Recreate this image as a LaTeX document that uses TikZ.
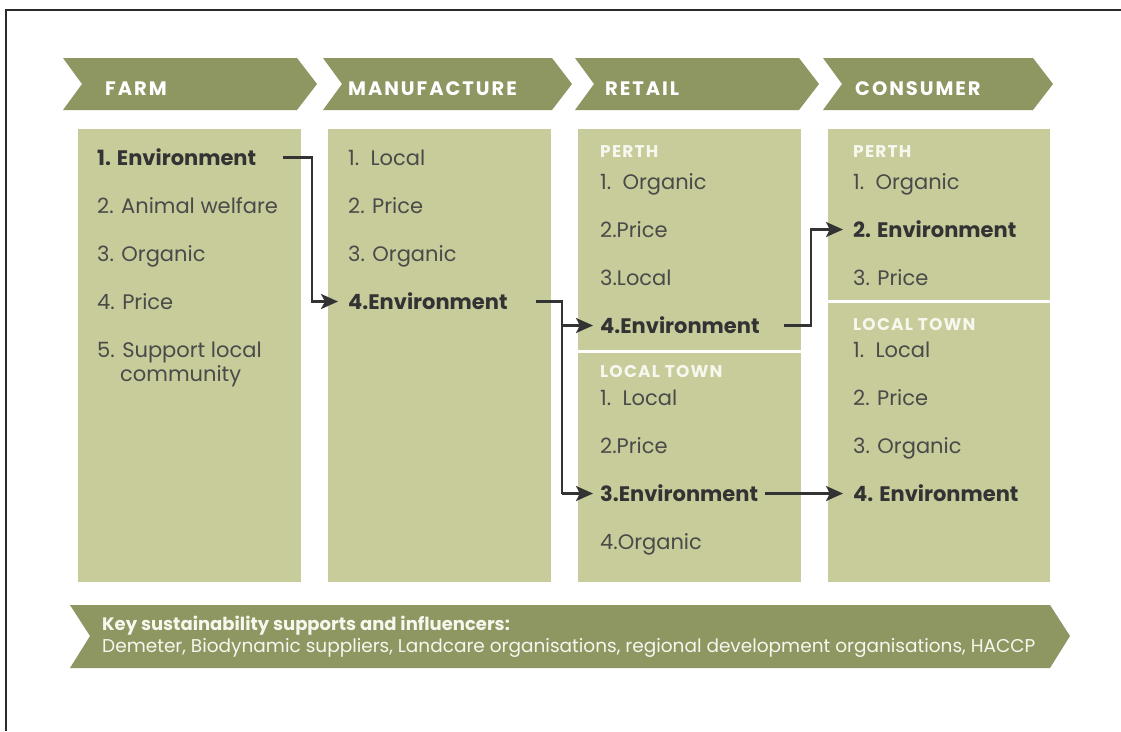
\documentclass[tikz,border=0pt]{standalone}
\usepackage{fontspec}
\setmainfont{Poppins}
\newfontfamily\spacedfont[LetterSpace=10]{Poppins}
\newfontfamily\subfont[LetterSpace=7]{Poppins}
\usetikzlibrary{arrows.meta}
\definecolor{bannerol}{HTML}{8E9662}
\definecolor{boxol}{HTML}{C8CC9B}
\definecolor{txtgray}{HTML}{4A4A48}
\definecolor{txtdark}{HTML}{333333}
\definecolor{subwhite}{HTML}{F7F7EE}
\definecolor{framec}{HTML}{2A2A2A}
\tikzset{
  head/.style={anchor=base west, inner sep=0pt, text=white, font=\spacedfont\fontsize{19.5}{22}\selectfont\bfseries},
  item/.style={anchor=base west, inner sep=0pt, text=txtgray, text height=15pt, text depth=0pt, font=\fontsize{21}{24}\selectfont},
  itemb/.style={item, text=txtdark, font=\fontsize{21}{24}\selectfont\bfseries},
  sub/.style={anchor=base west, inner sep=0pt, text=subwhite, font=\subfont\fontsize{17}{19}\selectfont\bfseries},
  flow/.style={draw=txtdark, line width=2.4pt, -{Stealth[length=17pt,width=15pt,inset=4pt]}},
  flowplain/.style={draw=txtdark, line width=2.4pt},
  divider/.style={draw=white, line width=3pt},
  keytext/.style={anchor=base west, inner sep=0pt, text=subwhite},
}
\newcommand{\chevron}[2]{%
  \fill[bannerol] (#1,58) -- (#2,58) -- ({#2+20},84) -- (#2,110) -- (#1,110) -- ({#1+19},84) -- cycle;}
\begin{document}
\begin{tikzpicture}[x=1pt,y=-1pt]
\useasboundingbox (0,0) rectangle (1121,731);
\fill[white] (0,0) rectangle (1121,731);
% frame
\draw[framec, line width=2.5pt] (6,731) -- (6,10) -- (1121,10);

% stage banners
\chevron{63}{297}
\chevron{323}{552}
\chevron{575}{799}
\chevron{823}{1033}
\node[head] (hFarm) at (105,95) {FARM};
\node[head] (hMan) at (348,95) {MANUFACTURE};
\node[head] (hRet) at (605,95) {RETAIL};
\node[head] (hCon) at (855,95) {CONSUMER};

% column panels
\fill[boxol] (78,129) rectangle (301,582);
\fill[boxol] (328,129) rectangle (551,582);
\fill[boxol] (578,129) rectangle (801,582);
\fill[boxol] (828,129) rectangle (1050,582);
\draw[divider] (578,351) -- (801,351);
\draw[divider] (828,301) -- (1050,301);

% farm
\node[itemb] (f1) at (97,165) {1. Environment};
\node[item] (f2) at (97,213) {2. Animal welfare};
\node[item] (f3) at (97,261) {3. Organic};
\node[item] (f4) at (97,309) {4. Price};
\node[item] (f5) at (97,357) {5. Support local};
\node[item] (f5b) at (120,381) {community};

% manufacture
\node[item] (m1) at (348,165) {1.\ \ Local};
\node[item] (m2) at (348,213) {2. Price};
\node[item] (m3) at (348,261) {3. Organic};
\node[itemb] (m4) at (348,309) {4.Environment};

% retail
\node[sub] (rP) at (600,157) {PERTH};
\node[item] (r1) at (600,189) {1.\ \ Organic};
\node[item] (r2) at (600,237) {2.Price};
\node[item] (r3) at (600,285) {3.Local};
\node[itemb] (r4) at (600,333) {4.Environment};
\node[sub] (rL) at (600,377) {LOCAL TOWN};
\node[item] (rl1) at (600,405) {1.\ \ Local};
\node[item] (rl2) at (600,453) {2.Price};
\node[itemb] (rl3) at (600,501) {3.Environment};
\node[item] (rl4) at (600,549) {4.Organic};

% consumer
\node[sub] (cP) at (853,157) {PERTH};
\node[item] (c1) at (853,189) {1.\ \ Organic};
\node[itemb] (c2) at (853,237) {2. Environment};
\node[item] (c3) at (853,285) {3. Price};
\node[sub] (cL) at (853,330) {LOCAL TOWN};
\node[item] (cl1) at (853,357) {1.\ \ Local};
\node[item] (cl2) at (853,405) {2. Price};
\node[item] (cl3) at (853,453) {3. Organic};
\node[itemb] (cl4) at (853,501) {4. Environment};

% junction columns between panels
\coordinate (j1) at (312,0);
\coordinate (j2) at (562,0);
\coordinate (j3) at (811,0);

% flows of the environment ranking
\coordinate (s1) at ([xshift=27pt]f1.east);
\draw[flow] (s1) -- (s1 -| j1) |- ([xshift=-10pt]m4.west);
\coordinate (s2) at ([xshift=28pt]m4.east);
\draw[flowplain] (s2) -- (s2 -| j2) -- (j2 |- rl3.west);
\draw[flow] (j2 |- r4.west) -- ([xshift=-7pt]r4.west);
\draw[flow] (j2 |- rl3.west) -- ([xshift=-7pt]rl3.west);
\coordinate (s3) at ([xshift=24pt]r4.east);
\draw[flow] (s3) -- (s3 -| j3) |- ([xshift=-10pt]c2.west);
\draw[flow] ([xshift=7pt]rl3.east) -- ([xshift=-10pt]cl4.west);

% supporters banner
\fill[bannerol] (70,605) -- (1050,605) -- (1070,636) -- (1050,668) -- (70,668) -- (90,636) -- cycle;
\node[keytext, font=\fontsize{18}{20}\selectfont\bfseries] (kTitle) at (102,630) {Key sustainability supports and influencers:};
\node[keytext, font=\fontsize{18.5}{20}\selectfont] (kList) at (102,652) {Demeter, Biodynamic suppliers, Landcare organisations, regional development organisations, HACCP};
\end{tikzpicture}
\end{document}
